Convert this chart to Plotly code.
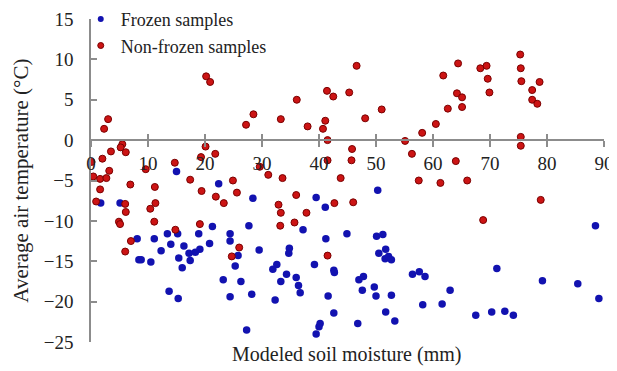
import plotly.graph_objects as go

# Frozen samples (blue): soil moisture (mm), air temperature (°C)
frozen_x = [15.0, 22.4, 28.4, 1.7, 5.1, 21.3, 27.7, 15.2, 13.4, 18.9, 24.4, 8.1, 11.1, 24.4, 20.8,
            14.0, 16.3, 29.5, 12.3, 19.1, 18.3, 17.2, 25.8, 15.4, 17.4, 8.4, 8.8, 10.5, 25.3, 16.0,
            23.2, 26.3, 13.7, 28.2, 15.3, 24.4, 27.3,
            39.5, 50.3, 41.1, 37.2, 44.9, 50.1, 51.2, 41.2, 34.8, 34.7, 50.5, 51.7, 51.6, 52.2,
            52.7, 39.2, 32.6, 31.9, 42.6, 42.7, 34.3, 36.0, 33.3, 47.8, 47.0, 36.4, 36.7, 47.6,
            49.7, 50.0, 52.7, 56.4, 57.6, 58.6, 58.2, 32.3, 41.6, 42.6, 51.7, 53.3, 46.8, 40.2,
            40.0, 39.5,
            88.5, 71.2, 79.2, 85.4, 63.0, 89.1, 61.6, 67.5, 70.3, 72.6, 74.1]
frozen_y = [-3.9, -5.4, -7.2, -7.8, -7.8, -10.7, -10.6, -11.6, -11.6, -11.6, -11.6, -12.2, -12.2, -12.5, -12.8,
            -12.9, -13.1, -13.6, -13.7, -13.5, -13.9, -14.0, -14.3, -14.6, -14.9, -14.8, -14.8, -15.1, -15.6, -15.8,
            -17.3, -17.5, -18.7, -19.1, -19.6, -19.4, -23.5,
            -7.1, -6.2, -8.3, -11.1, -11.6, -11.9, -11.7, -12.2, -13.4, -14.0, -14.0, -13.5, -14.7, -14.4,
            -14.8, -15.4, -15.4, -16.0, -16.1, -16.4, -16.6, -17.0, -17.5, -16.9, -17.3, -18.0, -18.9, -18.6,
            -18.2, -19.3, -19.2, -16.6, -16.3, -16.9, -20.4, -19.8, -19.3, -21.4, -21.3, -22.4, -22.7, -22.7,
            -23.1, -24.0,
            -10.6, -15.9, -17.4, -17.8, -18.6, -19.6, -20.3, -21.7, -21.3, -21.2, -21.7]

# Non-frozen samples (red)
nonfrozen_x = [20.2, 20.9, 3.0, 2.3, 27.2, 28.5,
               5.5, 5.2, 6.1, 3.5, 2.0, 0.1, 3.2, 0.4, 1.6, 2.7, 6.9, 1.6, 0.9, 6.0, 6.1,
               20.1, 19.3, 21.8, 14.7, 9.6,
               17.4, 24.9, 11.2, 19.4, 25.6, 21.9, 11.3, 23.3, 10.4, 4.9, 5.1, 11.1, 19.1, 14.8,
               7.0, 26.0, 6.0, 24.7,
               46.6, 41.4, 42.5, 45.3, 36.1, 51.0, 33.3, 48.1, 41.1, 38.0, 40.7, 58.1, 41.5, 55.1,
               45.8, 56.3, 41.5, 45.7, 29.6, 31.1, 33.6, 43.8, 57.5,
               36.0, 42.7, 46.0, 32.9, 33.3, 37.8, 35.7, 33.2, 41.5,
               75.3, 64.4, 69.4, 68.3, 75.4, 61.8, 69.6, 75.5, 78.7, 77.4, 69.9, 64.2, 65.1, 77.4,
               78.3, 65.1, 62.6, 60.5, 75.4, 75.4, 64.0, 66.0, 61.3, 78.9, 68.8]
nonfrozen_y = [7.9, 7.2, 2.6, 1.4, 1.9, 3.2,
               -0.5, -0.9, -1.5, -1.4, -2.3, -2.7, -3.8, -4.5, -4.8, -4.7, -5.5, -6.1, -7.6, -7.9, -8.9,
               -0.8, -2.1, -1.7, -2.8, -3.6,
               -4.9, -5.0, -5.8, -6.3, -6.5, -7.0, -7.8, -7.8, -8.5, -10.1, -10.4, -10.1, -10.4, -11.1,
               -12.5, -13.3, -13.8, -14.4,
               9.2, 6.1, 5.4, 5.9, 5.0, 3.8, 2.6, 2.7, 2.4, 1.7, 1.4, 0.9, 0.0, -0.1,
               -1.1, -1.7, -2.5, -2.5, -3.3, -4.3, -4.7, -4.7, -5.0,
               -6.8, -7.8, -7.7, -8.0, -9.0, -9.0, -10.2, -10.6, -14.3,
               10.6, 9.5, 9.2, 8.9, 8.9, 8.0, 7.6, 7.3, 7.2, 6.2, 5.9, 5.8, 5.3, 5.0,
               4.5, 4.1, 3.9, 2.0, 0.4, -0.7, -2.6, -5.0, -5.3, -7.4, -9.9]

x_ticks = [0, 10, 20, 30, 40, 50, 60, 70, 80, 90]
y_ticks = [15, 10, 5, 0, -5, -10, -15, -20, -25]

BLUE = "#1212b0"
RED = "#cc1414"
RED_EDGE = "#7a0000"
FONT = "Liberation Serif"
AXIS_GRAY = "#8c8c8c"
TXT = "#222"

fig = go.Figure()
fig.add_trace(go.Scatter(x=frozen_x, y=frozen_y, mode="markers", showlegend=False,
                         marker=dict(size=7.5, color=BLUE, line=dict(width=0))))
fig.add_trace(go.Scatter(x=nonfrozen_x, y=nonfrozen_y, mode="markers", showlegend=False,
                         marker=dict(size=7, color=RED, line=dict(width=1, color=RED_EDGE))))
# legend entries with smaller markers
fig.add_trace(go.Scatter(x=[None], y=[None], mode="markers", name="Frozen samples",
                         marker=dict(size=6, color=BLUE)))
fig.add_trace(go.Scatter(x=[None], y=[None], mode="markers", name="Non-frozen samples",
                         marker=dict(size=6, color=RED, line=dict(width=1, color=RED_EDGE))))
# helper trace for the overlaid x axis (cross ticks)
fig.add_trace(go.Scatter(x=[None], y=[None], xaxis="x2", mode="markers", showlegend=False,
                         hoverinfo="skip"))

y_min, y_max = -25, 15
zero_pos = (0 - y_min) / (y_max - y_min)

# page body has an 8px default margin, so the figure is 8px smaller than the window
fig.update_layout(
    width=609, height=363,
    margin=dict(l=83, r=13, t=11, b=29, autoexpand=False),
    paper_bgcolor="white", plot_bgcolor="white",
    font=dict(family=FONT, size=18, color=TXT),
    xaxis=dict(range=[0, 90], tickvals=x_ticks, showgrid=False, zeroline=False,
               showline=True, linecolor=AXIS_GRAY, linewidth=1.5,
               ticks="outside", ticklen=6, tickcolor=AXIS_GRAY, tickwidth=1.5,
               anchor="free", position=zero_pos, automargin=False,
               tickfont=dict(family=FONT, size=19, color=TXT)),
    xaxis2=dict(range=[0, 90], tickvals=x_ticks, overlaying="x", showgrid=False,
                zeroline=False, showline=False, showticklabels=False,
                ticks="inside", ticklen=6, tickcolor=AXIS_GRAY, tickwidth=1.5,
                anchor="free", position=zero_pos, side="bottom", automargin=False),
    yaxis=dict(range=[y_min, y_max], tickvals=y_ticks, showgrid=False, zeroline=False,
               showline=True, linecolor=AXIS_GRAY, linewidth=1.5,
               ticks="inside", ticklen=6, tickcolor=AXIS_GRAY, tickwidth=1.5,
               ticklabelstandoff=12, automargin=False,
               tickfont=dict(family=FONT, size=19, color=TXT)),
    legend=dict(x=-0.02, y=1.056, xanchor="left", yanchor="top",
                bgcolor="rgba(0,0,0,0)", font=dict(family=FONT, size=18, color=TXT),
                tracegroupgap=0, itemwidth=30),
    annotations=[
        dict(text="Modeled soil moisture (mm)", xref="paper", yref="paper",
             x=0.499, y=-0.04, xanchor="center", yanchor="middle", showarrow=False,
             font=dict(family=FONT, size=20, color=TXT)),
        dict(text="Average air temperature (°C)", xref="paper", yref="paper",
             x=-0.138, y=0.5, xanchor="center", yanchor="middle", showarrow=False,
             textangle=-90, font=dict(family=FONT, size=21, color=TXT)),
    ],
)

fig.write_html("out.html")
